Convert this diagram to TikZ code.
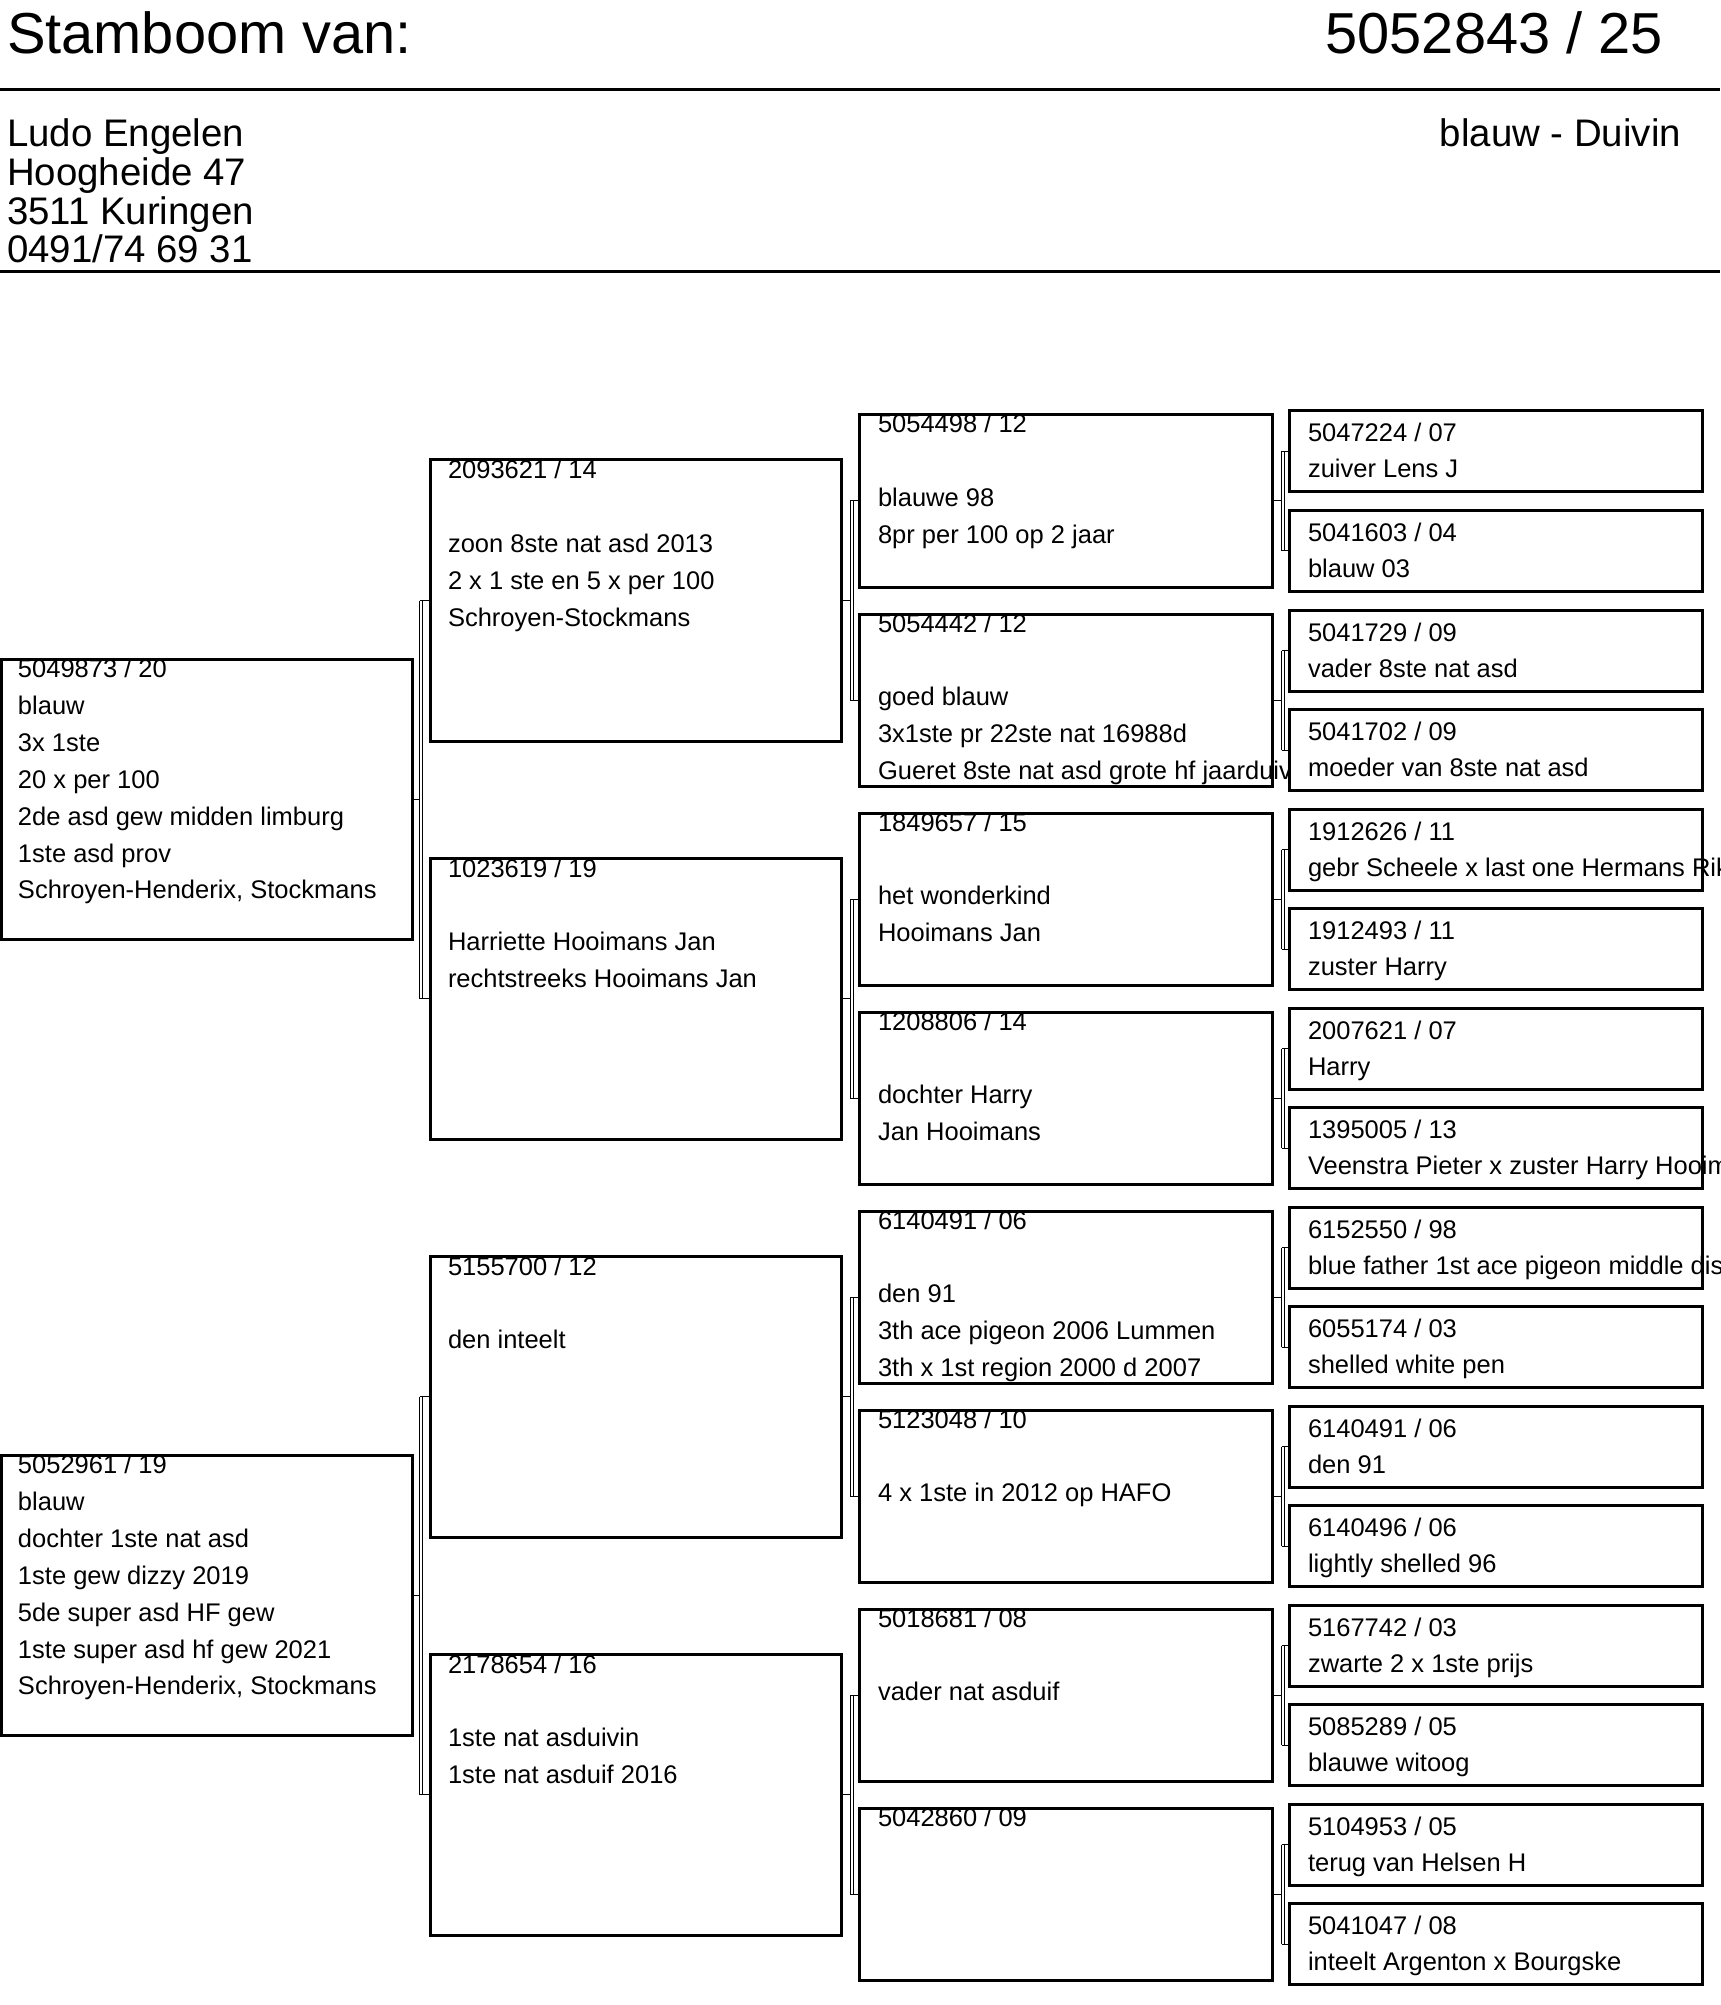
\documentclass[tikz,border=0pt]{standalone}
\usepackage{fontspec}
\setmainfont{Liberation Sans}
\newcommand\ls[1]{\begin{tabular}[t]{@{}l@{}}#1\end{tabular}}
\begin{document}
\begin{tikzpicture}[x=0.5pt,y=-0.5pt,
  boxf/.style={fill=white, inner sep=0pt, outer sep=0pt, anchor=north west, draw=none},
  border/.style={draw=black, line width=1.5pt},
  c1/.style={boxf, minimum width=205.5pt, minimum height=140pt},
  c2/.style={boxf, minimum width=205.5pt, minimum height=140.5pt},
  c3/.style={boxf, minimum width=206.5pt, minimum height=86pt},
  c4/.style={boxf, draw=black, line width=1.5pt, minimum width=206.5pt, minimum height=40.5pt},
  txt/.style={anchor=base west, inner sep=0pt, outer sep=0pt, font=\fontsize{12.75}{18.45}\selectfont},
  txtf/.style={anchor=base west, inner sep=0pt, outer sep=0pt, font=\fontsize{12.75}{18}\selectfont},
  conn/.style={draw=black, line width=0.5pt},
  connv/.style={draw=black, line width=0.5pt, double=white, double distance=1pt},
  head/.style={inner sep=0pt, outer sep=0pt, font=\fontsize{28.9}{30}\selectfont},
  sub/.style={inner sep=0pt, outer sep=0pt, font=\fontsize{19.2}{18}\selectfont},
  rule/.style={draw=black, line width=1.5pt}
]
\useasboundingbox (0,0) rectangle (1720,2005);
\clip (0,0) rectangle (1720,2005);
\fill[white] (0,0) rectangle (1720,2005);

% header
\node[head, anchor=base west] (title) at (7,54) {Stamboom van:};
\node[head, anchor=base east] (ring) at (1663,54) {5052843 / 25};
\node[sub, anchor=base west] (owner) at (7,147) {\ls{Ludo Engelen\\Hoogheide 47\\3511 Kuringen\\0491/74 69 31}};
\node[sub, anchor=base east] (kleur) at (1681,147) {blauw - Duivin};
\coordinate (r1l) at (0,90); \coordinate (r1r) at (1720,90);
\coordinate (r2l) at (0,272); \coordinate (r2r) at (1720,272);
\draw[rule] (r1l) -- (r1r);
\draw[rule] (r2l) -- (r2r);

% boxes of generations 1-3 (fill)
\foreach \n in {2,3}{\node[c1] (b\n) at (1,{659.5+796*(\n-2)}) {};}
\foreach \n in {4,...,7}{\node[c2] (b\n) at (430,{460+398*(\n-4)}) {};}
\foreach \n in {8,...,15}{\node[c3] (b\n) at (859,{415+199*(\n-8)}) {};}

% texts generation 1
\node[txt] (t2) at (18,677.5) {\ls{5049873 / 20\\blauw\\3x 1ste\\20 x per 100\\2de asd gew midden limburg\\1ste asd prov\\Schroyen-Henderix, Stockmans}};
\node[txt] (t3) at (18,1473.5) {\ls{5052961 / 19\\blauw\\dochter 1ste nat asd\\1ste gew dizzy 2019\\5de super asd HF gew\\1ste super asd hf gew 2021\\Schroyen-Henderix, Stockmans}};
% generation 2
\node[txt] (t4) at (448,479) {\ls{2093621 / 14\\ \\zoon 8ste nat asd 2013\\2 x 1 ste en 5 x per 100\\Schroyen-Stockmans}};
\node[txt] (t5) at (448,877) {\ls{1023619 / 19\\ \\Harriette Hooimans Jan\\rechtstreeks Hooimans Jan}};
\node[txt] (t6) at (448,1275) {\ls{5155700 / 12\\ \\den inteelt}};
\node[txt] (t7) at (448,1673) {\ls{2178654 / 16\\ \\1ste nat asduivin\\1ste nat asduif 2016}};
% generation 3
\node[txt] (t8) at (878,433) {\ls{5054498 / 12\\ \\blauwe 98\\8pr per 100 op 2 jaar}};
\node[txt] (t9) at (878,632) {\ls{5054442 / 12\\ \\goed blauw\\3x1ste pr 22ste nat 16988d\\Gueret 8ste nat asd grote hf jaarduiv}};
\node[txt] (t10) at (878,831) {\ls{1849657 / 15\\ \\het wonderkind\\Hooimans Jan}};
\node[txt] (t11) at (878,1030) {\ls{1208806 / 14\\ \\dochter Harry\\Jan Hooimans}};
\node[txt] (t12) at (878,1229) {\ls{6140491 / 06\\ \\den 91\\3th ace pigeon 2006 Lummen\\3th x 1st region 2000 d 2007}};
\node[txt] (t13) at (878,1428) {\ls{5123048 / 10\\ \\4 x 1ste in 2012 op HAFO}};
\node[txt] (t14) at (878,1627) {\ls{5018681 / 08\\ \\vader nat asduif}};
\node[txt] (t15) at (878,1826) {\ls{5042860 / 09}};

% borders generations 1-3
\foreach \n in {2,...,15}{\draw[border] (b\n.south west) rectangle (b\n.north east);}

% generation 4 boxes
\foreach \n in {16,...,31}{\node[c4] (b\n) at (1289,{411+99.5*(\n-16)}) {};}
\node[txtf] (t16) at (1308,442) {\ls{5047224 / 07\\zuiver Lens J}};
\node[txtf] (t17) at (1308,541.5) {\ls{5041603 / 04\\blauw 03}};
\node[txtf] (t18) at (1308,641) {\ls{5041729 / 09\\vader 8ste nat asd}};
\node[txtf] (t19) at (1308,740.5) {\ls{5041702 / 09\\moeder van 8ste nat asd}};
\node[txtf] (t20) at (1308,840) {\ls{1912626 / 11\\gebr Scheele x last one Hermans Rik}};
\node[txtf] (t21) at (1308,939.5) {\ls{1912493 / 11\\zuster Harry}};
\node[txtf] (t22) at (1308,1039) {\ls{2007621 / 07\\Harry}};
\node[txtf] (t23) at (1308,1138.5) {\ls{1395005 / 13\\Veenstra Pieter x zuster Harry Hooim}};
\node[txtf] (t24) at (1308,1238) {\ls{6152550 / 98\\blue father 1st ace pigeon middle dis}};
\node[txtf] (t25) at (1308,1337.5) {\ls{6055174 / 03\\shelled white pen}};
\node[txtf] (t26) at (1308,1437) {\ls{6140491 / 06\\den 91}};
\node[txtf] (t27) at (1308,1536.5) {\ls{6140496 / 06\\lightly shelled 96}};
\node[txtf] (t28) at (1308,1636) {\ls{5167742 / 03\\zwarte 2 x 1ste prijs}};
\node[txtf] (t29) at (1308,1735.5) {\ls{5085289 / 05\\blauwe witoog}};
\node[txtf] (t30) at (1308,1835) {\ls{5104953 / 05\\terug van Helsen H}};
\node[txtf] (t31) at (1308,1934.5) {\ls{5041047 / 08\\inteelt Argenton x Bourgske}};

% connectors
\foreach \n/\X in {2/421,3/421,4/851.5,5/851.5,6/851.5,7/851.5,8/1283,9/1283,10/1283,11/1283,12/1283,13/1283,14/1283,15/1283}{
  \pgfmathtruncatemacro\ca{2*\n}
  \pgfmathtruncatemacro\cb{2*\n+1}
  \coordinate (v\n) at (\X,0);
  \coordinate (w\n) at ({\X-1.5},0);
  \draw[connv] (v\n |- b\ca.west) -- (v\n |- b\cb.west);
  \draw[conn] (b\n.east) -- (w\n |- b\n.east);
  \draw[conn] (w\n |- b\ca.west) -- (b\ca.west);
  \draw[conn] (w\n |- b\cb.west) -- (b\cb.west);
}
\end{tikzpicture}
\end{document}
